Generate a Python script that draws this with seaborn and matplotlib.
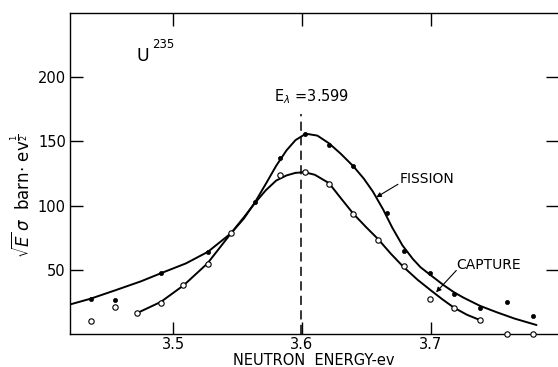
import matplotlib
matplotlib.use("Agg")
import matplotlib.pyplot as plt
import seaborn as sns
import pandas as pd

# ---- data ----
fission_x = [3.436, 3.455, 3.491, 3.527, 3.5635, 3.583, 3.602, 3.621, 3.640,
             3.666, 3.679, 3.699, 3.718, 3.738, 3.759, 3.779]
fission_y = [27.3, 26.6, 47.3, 64.1, 102.8, 136.9, 156.0, 147.1, 131.2,
             94.5, 64.3, 47.3, 31.2, 20.3, 24.7, 13.8]

capture_x = [3.436, 3.455, 3.472, 3.491, 3.508, 3.527, 3.545, 3.583, 3.602,
             3.621, 3.640, 3.659, 3.679, 3.699, 3.718, 3.738, 3.759, 3.779]
capture_y = [10.4, 20.8, 16.4, 24.5, 38.5, 54.7, 78.9, 124.0, 125.8,
             116.6, 93.2, 73.4, 52.6, 27.3, 20.0, 10.9, 0.0, 0.0]

# hand-drawn curves, read along their path
fission_curve_x = [3.420, 3.436, 3.455, 3.475, 3.491, 3.510, 3.527, 3.545, 3.555,
                   3.5635, 3.572, 3.580, 3.588, 3.595, 3.603, 3.612, 3.621, 3.630,
                   3.640, 3.648, 3.655, 3.663, 3.670, 3.678, 3.686, 3.692, 3.699,
                   3.710, 3.718, 3.725, 3.738, 3.751, 3.765, 3.782]
fission_curve_y = [23.0, 27.5, 34.0, 41.0, 47.5, 55.0, 64.0, 78.5, 90.0,
                   102.5, 117.0, 131.0, 143.0, 151.0, 156.0, 154.5, 148.5, 140.5,
                   130.5, 121.0, 111.0, 97.0, 83.0, 69.0, 58.5, 52.0, 46.5,
                   38.0, 32.5, 28.5, 22.0, 17.0, 12.0, 7.0]

capture_curve_x = [3.4723, 3.4905, 3.5083, 3.5267, 3.545, 3.555, 3.5635, 3.572,
                   3.580, 3.588, 3.595, 3.602, 3.610, 3.621, 3.630, 3.640, 3.650,
                   3.659, 3.669, 3.679, 3.690, 3.700, 3.709, 3.718, 3.728, 3.738]
capture_curve_y = [16.4, 25.0, 38.0, 55.0, 78.5, 91.0, 102.0, 112.0,
                   119.5, 123.5, 125.5, 126.0, 124.0, 117.5, 106.0, 93.5, 83.0,
                   74.0, 62.5, 52.0, 42.0, 34.0, 27.0, 20.5, 15.0, 10.9]

x_ticks = [3.5, 3.6, 3.7]
x_tick_labels = ["3.5", "3.6", "3.7"]
y_ticks = [50, 100, 150, 200]
y_tick_labels = ["50", "100", "150", "200"]
resonance_energy = 3.599

# ---- figure ----
sns.set_theme(style="ticks")
plt.rcParams["font.family"] = ["DejaVu Sans"]
plt.rcParams["text.color"] = "black"
plt.rcParams["axes.labelcolor"] = "black"

fig = plt.figure(figsize=(5.58, 3.67), dpi=100)
ax = fig.add_axes([70 / 558, 1 - 334 / 367, 1 - 70 / 558, (334 - 13) / 367])

fc = pd.DataFrame({"x": fission_curve_x, "y": fission_curve_y})
cc = pd.DataFrame({"x": capture_curve_x, "y": capture_curve_y})
fp = pd.DataFrame({"x": fission_x, "y": fission_y})
cp = pd.DataFrame({"x": capture_x, "y": capture_y})

sns.lineplot(data=fc, x="x", y="y", ax=ax, color="black", lw=1.4, sort=False)
sns.lineplot(data=cc, x="x", y="y", ax=ax, color="black", lw=1.4, sort=False)
sns.scatterplot(data=fp, x="x", y="y", ax=ax, color="black", s=9,
                edgecolor="black", linewidth=0.5, zorder=5)
sns.scatterplot(data=cp, x="x", y="y", ax=ax, facecolor="white", s=15,
                edgecolor="black", linewidth=0.8, zorder=5, clip_on=False)

ax.plot([resonance_energy, resonance_energy], [0, 171], color="black",
        lw=1.1, dashes=(6, 3.5))

ax.set_xlim(3.42, 3.7987)
ax.set_ylim(0, 250)

ax.set_xticks(x_ticks)
ax.set_xticklabels(x_tick_labels)
ax.set_yticks(y_ticks)
ax.set_yticklabels(y_tick_labels)
ax.tick_params(axis="both", direction="in", length=9, width=1.0,
               top=True, right=True, labelsize=10.5, colors="black", pad=3)
ax.tick_params(axis="x", pad=2)

for side in ["left", "top", "bottom"]:
    ax.spines[side].set_linewidth(1.0)
    ax.spines[side].set_color("black")
ax.spines["right"].set_visible(False)

ax.set_xlabel("NEUTRON  ENERGY-ev", fontsize=10.5, labelpad=1)
ax.set_ylabel(r"$\sqrt{E}\,\sigma$  barn$\cdot$ ev$^{\frac{1}{2}}$",
              fontsize=12)
ax.yaxis.set_label_coords(-0.076, 0.43)

ax.text(3.4716, 213, "U", fontsize=12.5, ha="left", va="baseline")
ax.text(3.4840, 222.7, "235", fontsize=8.5, ha="left", va="baseline")
ax.text(3.5782, 185, r"E$_\lambda$ =3.599", fontsize=10.5, ha="left", va="center")
ax.text(3.6756, 120.5, "FISSION", fontsize=10, ha="left", va="center")
ax.text(3.7194, 53.4, "CAPTURE", fontsize=10, ha="left", va="center")

arrow = dict(arrowstyle="-|>", color="black", lw=0.8, mutation_scale=7,
             shrinkA=0, shrinkB=0)
ax.annotate("", xy=(3.6577, 106.5), xytext=(3.6745, 116.6), arrowprops=arrow)
ax.annotate("", xy=(3.7041, 32.5), xytext=(3.7198, 49.5), arrowprops=arrow)

fig.savefig("out.png", dpi=100)
